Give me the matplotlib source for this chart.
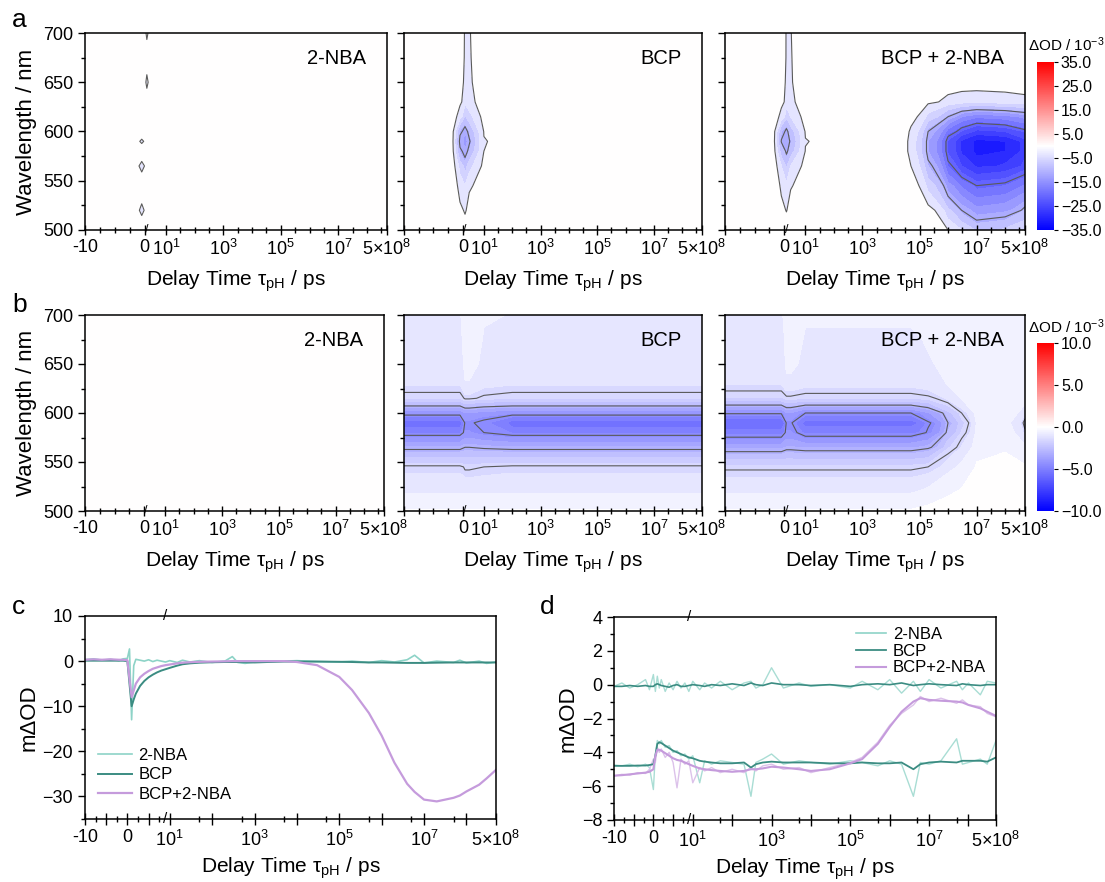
import numpy as np
import matplotlib
matplotlib.use('Agg')
import matplotlib.pyplot as plt
from matplotlib.colors import Normalize
from matplotlib.cm import ScalarMappable
from matplotlib.lines import Line2D

plt.rcParams['font.family'] = ['Liberation Sans', 'DejaVu Sans']
plt.rcParams['mathtext.fontset'] = 'custom'
plt.rcParams['mathtext.rm'] = 'Liberation Sans'
plt.rcParams['mathtext.it'] = 'Liberation Sans:italic'
plt.rcParams['mathtext.default'] = 'regular'

# ---------------- data: 2D maps (columns = delay times, rows = wavelengths) ----------------
wl = [500, 520, 545, 565, 580, 590, 600, 615, 630, 650, 675, 700]
t_map = [-10, -2, -0.5, 1, 3, 10, 100, 1e3, 1e4, 5e4, 2e5, 1e6, 3e6, 1e7, 1e8, 5e8]

zero_col = [0] * 12

# a: 2-NBA (only tiny features close to time zero)
nba_a_m05 = [0, -3.4, 0, -3.6, 0, -3.2, 0, 0, 0, 0, 0, 0]
nba_a_p1 = [0, 0, 0, 0, 0, 0, 0, 0, 0, -3.6, 0, -3.4]

# a: BCP
bcp_a_m05 = [0, -2.0, -3.5, -6.0, -10.5, -11.8, -10.5, -4.0, -2.0, -1.5, -1.0, -0.8]
bcp_a_p1 = [-0.5, -3.0, -5.0, -9.0, -12.5, -13.5, -12.5, -8.0, -4.5, -3.5, -3.0, -2.9]
bcp_a_p3 = [0, -1.2, -3.0, -6.0, -10.0, -11.5, -10.0, -6.0, -3.5, -3.0, -2.8, -2.7]
bcp_a_p10 = [0, 0, -1.0, -1.8, -2.5, -2.6, -2.4, -1.5, -1.0, -0.6, -0.5, -0.4]

# a: BCP + 2-NBA
mix_a_m05 = [0, -1.8, -3.0, -5.0, -9.0, -11.2, -10.0, -3.5, -1.8, -1.3, -0.9, -0.7]
mix_a_p1 = [-0.3, -2.7, -4.5, -8.0, -11.8, -12.8, -12.0, -7.0, -4.0, -3.2, -2.8, -2.8]
mix_a_p3 = [0, -1.0, -2.8, -5.0, -9.0, -10.5, -9.0, -5.0, -3.2, -2.8, -2.7, -2.6]
mix_a_p10 = [0, 0, -0.8, -1.6, -2.4, -2.6, -2.3, -1.4, -0.9, -0.5, -0.4, -0.4]
mix_a_5e4 = [0, 0, -1.0, -2.5, -3.5, -3.5, -3.0, -1.5, -0.5, 0, 0, 0]
mix_a_2e5 = [0, -1.5, -6.0, -10.0, -12.5, -12.5, -11.0, -6.0, -2.0, -0.3, 0, 0]
mix_a_1e6 = [-2.5, -7.0, -14.0, -20.0, -23.0, -23.0, -19.0, -11.0, -3.5, -0.8, 0, 0]
mix_a_3e6 = [-5.0, -11.0, -18.0, -25.0, -28.0, -28.0, -23.0, -15.0, -4.2, -1.0, -0.2, 0]
mix_a_1e7 = [-8.0, -14.0, -21.0, -28.0, -31.0, -31.0, -26.0, -17.0, -4.5, -1.0, -0.5, 0]
mix_a_1e8 = [-7.0, -13.0, -20.0, -27.0, -30.0, -30.0, -25.0, -16.0, -4.0, -1.0, -0.3, 0]
mix_a_5e8 = [-5.0, -10.0, -17.0, -24.0, -26.0, -26.0, -22.0, -14.0, -3.5, -0.8, 0, 0]

# b: BCP
bcp_b_band = [-0.2, -0.8, -1.4, -3.2, -4.8, -5.6, -4.2, -1.7, -1.2, -1.0, -0.9, -0.8]
bcp_b_early = [-0.2, -0.8, -1.6, -3.0, -4.2, -4.4, -3.8, -1.4, -0.8, -0.5, -0.3, -0.3]
bcp_b_p10 = [-0.2, -0.8, -1.5, -3.1, -4.5, -4.7, -4.0, -1.6, -1.1, -0.9, -0.8, -0.7]

# b: BCP + 2-NBA
mix_b_band = [-0.2, -0.8, -1.6, -3.4, -5.0, -5.8, -4.4, -1.8, -1.2, -1.0, -0.9, -0.8]
mix_b_early = [-0.2, -0.8, -1.6, -3.2, -4.2, -4.4, -3.8, -1.6, -0.9, -0.6, -0.5, -0.5]
mix_b_mid = [-0.2, -0.8, -1.6, -3.3, -4.9, -5.5, -4.5, -1.7, -1.1, -0.9, -0.8, -0.7]
mix_b_2e5 = [-0.1, -0.6, -1.5, -3.1, -4.4, -4.6, -3.8, -1.6, -1.0, -0.8, -0.7, -0.6]
mix_b_1e6 = [-0.1, -0.3, -0.9, -1.8, -2.7, -3.0, -2.4, -1.1, -0.7, -0.5, -0.4, -0.4]
mix_b_3e6 = [-0.05, -0.2, -0.6, -1.2, -1.7, -1.9, -1.5, -0.7, -0.5, -0.4, -0.4, -0.4]
mix_b_1e7 = [0, 0, -0.2, -0.4, -0.6, -0.7, -0.5, -0.3, -0.3, -0.4, -0.5, -0.5]
mix_b_1e8 = [0, 0, -0.1, -0.3, -0.5, -0.6, -0.4, -0.3, -0.3, -0.4, -0.5, -0.6]
mix_b_5e8 = [0, 0, -0.2, -0.6, -1.4, -1.7, -1.2, -0.4, -0.4, -0.5, -0.6, -0.7]

map_a_nba = [zero_col, zero_col, nba_a_m05, nba_a_p1] + [zero_col] * 12
map_a_bcp = [zero_col, zero_col, bcp_a_m05, bcp_a_p1, bcp_a_p3, bcp_a_p10] + [zero_col] * 10
map_a_mix = [zero_col, zero_col, mix_a_m05, mix_a_p1, mix_a_p3, mix_a_p10,
             zero_col, zero_col, zero_col, mix_a_5e4, mix_a_2e5, mix_a_1e6,
             mix_a_3e6, mix_a_1e7, mix_a_1e8, mix_a_5e8]
map_b_nba = [zero_col] * 16
map_b_bcp = [bcp_b_band] * 3 + [bcp_b_early] * 2 + [bcp_b_p10] + [bcp_b_band] * 10
map_b_mix = [mix_b_band] * 3 + [mix_b_early] * 2 + [mix_b_mid] * 5 + \
            [mix_b_2e5, mix_b_1e6, mix_b_3e6, mix_b_1e7, mix_b_1e8, mix_b_5e8]

# ---------------- data: kinetics ----------------
t_kin = [-10, -8, -6, -4, -2, -1, 0,
         0.5, 1, 1.5, 2, 3, 4, 5, 6, 7, 8, 9, 10,
         15, 20, 30, 50, 100,
         200, 300, 400, 600, 1e3,
         2e3, 5e3, 1e4, 3e4, 1e5,
         2e5, 5e5, 1e6, 2e6, 4e6,
         6e6, 1e7, 2e7, 5e7, 7e7,
         1e8, 2e8, 3e8, 5e8]

nba_c = [0.3, 0.5, 0.2, 0.4, 0.1, 0.5, 0.6,
         2.7, -13.0, -1.0, 0.4, 0.2, 0.0, 0.3, -0.1, 0.2, 0.0, -0.2, 0.1,
         -0.3, 0.2, -0.2, 0.1, -0.3,
         0.0, 1.0, -0.3, -0.5, -0.2,
         -0.1, 0.0, 0.1, -0.1, -0.2,
         0.0, -0.3, 0.1, -0.2, 0.3,
         1.3, -0.4, 0.0, -0.3, 0.2,
         -0.4, 0.0, -0.5, -0.2]
bcp_c = [0.1, 0.1, 0.1, 0.1, 0.1, 0.1, 0.0,
         -5.0, -10.0, -8.5, -7.2, -5.5, -4.4, -3.6, -3.0, -2.5, -2.1, -1.8, -1.5,
         -1.0, -0.7, -0.5, -0.35, -0.25,
         -0.2, -0.2, -0.2, -0.25, -0.3,
         -0.2, -0.1, -0.1, -0.1, -0.15,
         -0.2, -0.3, -0.3, -0.35, -0.4,
         -0.4, -0.4, -0.35, -0.3, -0.3,
         -0.3, -0.3, -0.3, -0.3]
mix_c = [0.3, 0.4, 0.3, 0.4, 0.3, 0.3, 0.2,
         -4.0, -8.0, -6.5, -5.0, -3.6, -2.8, -2.2, -1.7, -1.4, -1.1, -0.9, -0.75,
         -0.5, -0.35, -0.25, -0.15, -0.1,
         -0.05, 0.0, 0.0, 0.0, 0.0,
         0.0, 0.0, -0.2, -0.9, -3.5,
         -6.4, -11.5, -16.5, -22.5, -27.2,
         -29.0, -30.7, -31.1, -30.3, -29.8,
         -28.9, -27.4, -26.0, -24.1]

nba_raw_d = [-0.1, 0.1, -0.2, 0.0, 0.3, -0.3, 0.6,
             -0.4, 0.5, -0.2, 0.3, -0.4, 0.1, -0.3, 0.2, -0.2, 0.1, -0.4, 0.2,
             -0.3, 0.1, -0.2, 0.2, -0.3,
             0.1, 0.2, -0.2, 0.0, 1.0,
             -0.2, 0.1, -0.1, 0.0, -0.2,
             0.2, -0.3, 0.3, -0.5, 0.2,
             -0.4, 0.3, -0.2, 0.2, -0.3,
             0.1, -0.6, 0.2, 0.1]
nba_fit_d = [-0.1, -0.1, -0.05, -0.1, -0.05, -0.1, -0.1,
             0.0, 0.05, 0.0, -0.05, -0.1, -0.15, -0.05, 0.0, -0.1, -0.1, -0.05, 0.0,
             -0.05, -0.1, 0.0, -0.05, 0.05,
             -0.05, 0.1, 0.0, -0.05, 0.1,
             0.0, 0.0, -0.05, 0.0, -0.1,
             0.0, 0.05, 0.0, 0.1, -0.05,
             0.0, 0.05, 0.0, -0.05, 0.05,
             0.0, -0.05, 0.0, 0.0]
bcp_raw_d = [-4.75, -4.8, -4.7, -4.85, -4.7, -4.9, -6.2,
             -4.1, -3.3, -3.5, -3.3, -3.7, -3.6, -4.0, -3.9, -4.2, -4.1, -4.4, -4.2,
             -5.8, -4.5, -4.7, -4.5, -4.6,
             -4.7, -6.6, -4.6, -4.4, -4.1,
             -4.7, -4.5, -4.6, -4.7, -4.5,
             -4.6, -4.8, -4.5, -4.7, -6.6,
             -4.6, -4.7, -4.5, -3.2, -4.7,
             -4.6, -4.4, -4.7, -3.3]
bcp_fit_d = [-4.8, -4.8, -4.8, -4.78, -4.78, -4.75, -4.7,
             -4.2, -3.5, -3.4, -3.45, -3.6, -3.75, -3.9, -4.0, -4.1, -4.2, -4.3, -4.35,
             -4.5, -4.55, -4.6, -4.65, -4.65,
             -4.6, -4.9, -4.7, -4.6, -4.55,
             -4.6, -4.6, -4.6, -4.65, -4.65,
             -4.6, -4.65, -4.65, -4.6, -5.0,
             -4.7, -4.6, -4.55, -4.6, -4.5,
             -4.5, -4.5, -4.55, -4.3]
mix_raw_d = [-5.4, -5.3, -5.35, -5.2, -5.25, -5.0, -4.4,
             -4.6, -3.7, -4.0, -3.8, -4.3, -4.0, -4.6, -6.1, -4.4, -4.7, -4.5, -5.8,
             -4.9, -5.1, -4.9, -5.2, -5.0,
             -5.2, -4.9, -5.1, -4.8, -4.7,
             -5.0, -4.9, -5.2, -4.9, -4.6,
             -4.3, -3.4, -2.4, -1.7, -1.2,
             -0.7, -1.0, -0.8, -1.1, -0.9,
             -1.2, -1.3, -1.7, -1.9]
mix_fit_d = [-5.38, -5.35, -5.3, -5.25, -5.2, -5.15, -5.0,
             -4.2, -3.85, -3.85, -3.9, -4.05, -4.2, -4.35, -4.45, -4.5, -4.6, -4.7, -4.8,
             -4.95, -5.0, -5.05, -5.1, -5.15,
             -5.1, -5.0, -5.0, -4.95, -4.85,
             -4.9, -5.0, -5.1, -5.0, -4.65,
             -4.4, -3.5, -2.5, -1.6, -1.0,
             -0.8, -0.9, -0.95, -1.0, -1.05,
             -1.2, -1.4, -1.6, -1.85]

sample_names = ['2-NBA', 'BCP', 'BCP + 2-NBA']
legend_names = ['2-NBA', 'BCP', 'BCP+2-NBA']

C_NBA = '#8dd3c7'
C_NBA_RAW = '#a9ddd4'
C_BCP = '#3b8c82'
C_MIX = '#c59bdc'
C_MIX_RAW = '#dcc2ea'


# ---------------- broken linear/log time axis ----------------
def make_scale(neg_w, pos_w):
    """线性段 (-10..10) + 对数段 (>10) 的分段坐标。"""
    def fwd(t):
        t = np.asarray(t, dtype=float)
        with np.errstate(all='ignore'):
            out = np.where(t < 0, neg_w * t / 10.0,
                           np.where(t <= 10, pos_w * t / 10.0,
                                    pos_w + np.log10(np.maximum(t, 10.0)) - 1.0))
        return out

    def inv(u):
        u = np.asarray(u, dtype=float)
        with np.errstate(all='ignore'):
            out = np.where(u < 0, 10.0 * u / neg_w,
                           np.where(u <= pos_w, 10.0 * u / pos_w,
                                    10.0 ** np.minimum(u - pos_w + 1.0, 300)))
        return out
    return fwd, inv


scale_map = make_scale(2.08, 0.74)
scale_kin = make_scale(1.0, 1.0)

XLAB = r'Delay Time τ$_{pH}$ / ps'
TICK_FS = 13


def style_map_xaxis(ax, first):
    ax.set_xscale('function', functions=scale_map)
    ax.set_xlim(-10, 5e8)
    ax.set_xticks([-10, 0, 10, 1e3, 1e5, 1e7, 5e8])
    ax.set_xticklabels(['-10' if first else '', '0', '10$^1$', '10$^3$', '10$^5$',
                        '10$^7$', '5×10$^8$'])
    ax.set_xticks([-7.5, -5, -2.5, 10 ** 1.5, 1e2, 10 ** 2.5, 10 ** 3.5, 1e4, 10 ** 4.5,
                   10 ** 5.5, 1e6, 10 ** 6.5, 10 ** 7.5, 1e8, 10 ** 8.5], minor=True)
    ax.tick_params(axis='x', which='major', direction='inout', length=7, width=1,
                   labelsize=TICK_FS, pad=3)
    ax.tick_params(axis='x', which='minor', direction='inout', length=4, width=1)
    ax.text(1.0, 0.0, '/', transform=ax.get_xaxis_transform(), ha='center', va='center',
            fontsize=9)
    ax.set_xlabel(XLAB, fontsize=15, labelpad=7)


def style_kin_xaxis(ax):
    ax.set_xscale('function', functions=scale_kin)
    ax.set_xlim(-10, 5e8)
    ax.set_xticks([-10, -5, 0, 5, 10, 1e2, 1e3, 1e4, 1e5, 1e6, 1e7, 1e8, 5e8])
    ax.set_xticklabels(['-10', '', '0', '', '10$^1$', '', '10$^3$', '', '10$^5$', '',
                        '10$^7$', '', '5×10$^8$'])
    ax.set_xticks([-7.5, -2.5, 2.5, 7.5, 50, 500, 5e3, 5e4, 5e5, 5e6, 5e7], minor=True)
    ax.tick_params(axis='x', which='major', direction='inout', length=9, width=1,
                   labelsize=TICK_FS, pad=3)
    ax.tick_params(axis='x', which='minor', direction='inout', length=5, width=1)
    for yy in (0.0, 1.0):
        ax.text(9, yy, '/', transform=ax.get_xaxis_transform(), ha='center', va='center',
                fontsize=11)
    ax.set_xlabel(XLAB, fontsize=15, labelpad=4)


fig = plt.figure(figsize=(11.05, 8.82), dpi=100)
W, H = 1105.0, 882.0


def add_axes_px(left, top, right, bottom):
    return fig.add_axes([left / W, 1 - bottom / H, (right - left) / W, (bottom - top) / H])


cmap = plt.get_cmap('bwr')
norm_a = Normalize(-35, 35)
norm_b = Normalize(-10, 10)
# white band between the outermost contour lines (+-2.5) in row a
levels_a = np.concatenate([np.arange(-37.5, -2.4, 2.5), np.arange(2.5, 37.6, 2.5)])
levels_b = np.arange(-10.25, 10.3, 0.5)

row_a = [(85, 387, map_a_nba), (404, 702, map_a_bcp), (725, 1025, map_a_mix)]
row_b = [(85, 384, map_b_nba), (404, 702, map_b_bcp), (725, 1025, map_b_mix)]

for r, (rows, top, bottom, norm, levels, line_lv) in enumerate([
        (row_a, 33, 230, norm_a, levels_a, [-21, -11, -2.5]),
        (row_b, 315, 511, norm_b, levels_b, [-4.5, -3.0, -1.5])]):
    for i, (l, rgt, cols) in enumerate(rows):
        ax = add_axes_px(l, top, rgt, bottom)
        Z = np.column_stack(cols)
        ax.contourf(t_map, wl, Z, levels=levels, cmap=cmap, norm=norm)
        ax.contour(t_map, wl, Z, levels=line_lv, colors='#5a5a5a', linewidths=0.8,
                   linestyles='solid')
        style_map_xaxis(ax, i == 0)
        ax.set_ylim(500, 700)
        ax.set_yticks([500, 550, 600, 650, 700])
        ax.set_yticks([525, 575, 625, 675], minor=True)
        ax.tick_params(axis='y', which='major', direction='out', length=5, width=1,
                       labelsize=TICK_FS)
        ax.tick_params(axis='y', which='minor', direction='out', length=3, width=1)
        if i == 0:
            ax.set_ylabel('Wavelength / nm', fontsize=16, labelpad=4)
        else:
            ax.set_yticklabels([])
        ax.text(0.93, 0.87, sample_names[i], transform=ax.transAxes, ha='right',
                va='center', fontsize=14.5)
        for s in ax.spines.values():
            s.set_linewidth(1.1)

# colour bars
for (top, bottom, norm, ticks, ttl_y) in [
        (62, 230, norm_a, [-35, -25, -15, -5, 5, 15, 25, 35], 45),
        (343, 511, norm_b, [-10, -5, 0, 5, 10], 327)]:
    cax = add_axes_px(1037, top, 1054, bottom)
    cb = fig.colorbar(ScalarMappable(norm=norm, cmap=cmap), cax=cax, ticks=ticks)
    cb.outline.set_visible(False)
    cb.ax.yaxis.set_major_formatter('{x:.1f}')
    cb.ax.tick_params(labelsize=11.5, length=3, width=0.8, pad=2)
    fig.text(1066 / W, 1 - ttl_y / H, 'ΔOD / 10$^{-3}$', ha='center', va='center',
             fontsize=11)

# panel c
axc = add_axes_px(85, 616, 496, 819)
axc.plot(t_kin, nba_c, color=C_NBA, lw=1.2, label=legend_names[0])
axc.plot(t_kin, bcp_c, color=C_BCP, lw=1.4, label=legend_names[1])
axc.plot(t_kin, mix_c, color=C_MIX, lw=1.6, label=legend_names[2])
style_kin_xaxis(axc)
axc.set_ylim(-35, 10)
axc.set_yticks([-30, -20, -10, 0, 10])
axc.set_yticks([-35, -25, -15, -5, 5], minor=True)
axc.set_ylabel('mΔOD', fontsize=16, labelpad=2)
axc.legend(loc='lower left', frameon=False, fontsize=12, handlelength=2.0,
           handletextpad=0.4, labelspacing=0.25, borderaxespad=0.4,
           bbox_to_anchor=(0.0, 0.02))

# panel d
axd = add_axes_px(614, 617, 996, 820)
axd.plot(t_kin, nba_raw_d, color=C_NBA_RAW, lw=1.0)
axd.plot(t_kin, bcp_raw_d, color=C_NBA_RAW, lw=1.0)
axd.plot(t_kin, mix_raw_d, color=C_MIX_RAW, lw=1.0)
axd.plot(t_kin, nba_fit_d, color=C_BCP, lw=1.2)
axd.plot(t_kin, bcp_fit_d, color=C_BCP, lw=1.3)
axd.plot(t_kin, mix_fit_d, color=C_MIX, lw=1.5)
style_kin_xaxis(axd)
axd.set_ylim(-8, 4)
axd.set_yticks([-8, -6, -4, -2, 0, 2, 4])
axd.set_yticks([-7, -5, -3, -1, 1, 3], minor=True)
axd.set_ylabel('mΔOD', fontsize=16, labelpad=2)
handles = [Line2D([], [], color=C_NBA, lw=1.2), Line2D([], [], color=C_BCP, lw=1.3),
           Line2D([], [], color=C_MIX, lw=1.5)]
axd.legend(handles, legend_names, loc='upper right', frameon=False, fontsize=12,
           handlelength=1.8, handletextpad=0.4, labelspacing=0.1, borderaxespad=0.2,
           bbox_to_anchor=(1.0, 1.0))

for ax in (axc, axd):
    ax.tick_params(axis='y', which='major', direction='out', length=5, width=1,
                   labelsize=TICK_FS)
    ax.tick_params(axis='y', which='minor', direction='out', length=3, width=1)
    for s in ax.spines.values():
        s.set_linewidth(1.1)

# panel letters
for letter, x, y in [('a', 12, 20), ('b', 12, 305), ('c', 12, 607), ('d', 540, 607)]:
    fig.text(x / W, 1 - y / H, letter, ha='left', va='center', fontsize=19)

fig.savefig('out.png', dpi=100)
